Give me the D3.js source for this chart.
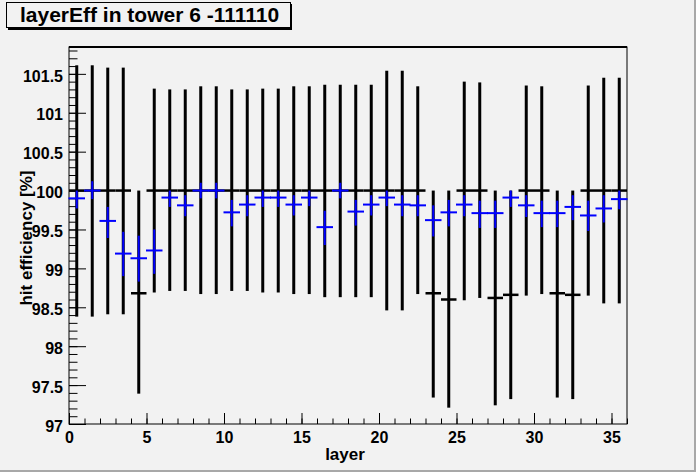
<!DOCTYPE html>
<html>
<head>
<meta charset="utf-8">
<script src="https://cdn.jsdelivr.net/npm/d3@7"></script>
<style>
  html, body { margin: 0; padding: 0; background: #f2f2f2; }
  svg { display: block; }
  text { font-family: "Liberation Sans", Arial, Helvetica, sans-serif; font-weight: bold; }
</style>
</head>
<body>
<svg id="chart" width="696" height="472"></svg>
<script>
// ---- data ----
const layers = d3.range(36).map(i => i + 0.5);

// black series (reference)
const blackValue = [100,100,100,100,98.68,100,100,100,100,100,100,100,100,100,100,100,100,100,100,100,100,100,100,98.68,98.60,100,100,98.62,98.66,100,100,98.68,98.66,100,100,100];
const blackHigh  = [101.61,101.61,101.58,101.58,100,101.31,101.30,101.30,101.34,101.34,101.30,101.30,101.31,101.31,101.34,101.34,101.36,101.36,101.36,101.36,101.54,101.54,101.34,100,100,101.40,101.39,100,100,101.35,101.34,100,100,101.35,101.45,101.45];
const blackLow   = [98.38,98.38,98.41,98.41,97.39,98.69,98.71,98.71,98.67,98.67,98.71,98.71,98.69,98.69,98.67,98.67,98.63,98.63,98.63,98.63,98.46,98.46,98.67,97.34,97.21,98.59,98.62,97.24,97.32,98.65,98.67,97.34,97.32,98.65,98.55,98.55];

// blue series
const blueValue = [99.90,100.00,99.61,99.19,99.13,99.23,99.91,99.81,100.00,100.00,99.72,99.82,99.91,99.91,99.82,99.91,99.53,100.00,99.73,99.82,99.91,99.82,99.81,99.62,99.72,99.82,99.71,99.71,99.91,99.81,99.71,99.71,99.79,99.68,99.77,99.89];
const blueHigh  = [100.00,100.12,99.79,99.47,99.42,99.50,100.00,99.94,100.10,100.10,99.88,99.94,100.00,100.00,99.94,100.00,99.74,100.10,99.88,99.94,100.00,99.94,99.94,99.81,99.88,99.94,99.87,99.87,100.00,99.94,99.87,99.87,99.94,99.87,99.94,100.00];
const blueLow   = [99.77,99.89,99.39,98.90,98.83,98.93,99.79,99.67,99.90,99.90,99.54,99.67,99.79,99.79,99.68,99.80,99.30,99.90,99.55,99.68,99.80,99.67,99.67,99.41,99.54,99.67,99.52,99.52,99.79,99.66,99.53,99.53,99.62,99.48,99.59,99.76];

const yTickValues = [97, 97.5, 98, 98.5, 99, 99.5, 100, 100.5, 101, 101.5];
const yTickLabels = ["97", "97.5", "98", "98.5", "99", "99.5", "100", "100.5", "101", "101.5"];
const xTickValues = [0, 5, 10, 15, 20, 25, 30, 35];
const xTickLabels = ["0", "5", "10", "15", "20", "25", "30", "35"];

const titleText = "layerEff in tower 6 -111110";
const xTitle = "layer";
const yTitle = "hit efficiency [%]";

// ---- layout ----
const W = 696, H = 472;
const fl = 69, fr = 627, ft = 47, fb = 424;
const svg = d3.select("#chart");

svg.append("rect").attr("x", 0).attr("y", 0).attr("width", W).attr("height", H).attr("fill", "#f2f2f2");
// canvas bevel
svg.append("rect").attr("x", W - 2).attr("y", 0).attr("width", 2).attr("height", H).attr("fill", "#a8a8a8");
svg.append("rect").attr("x", 0).attr("y", H - 2).attr("width", W).attr("height", 2).attr("fill", "#a8a8a8");

const x = d3.scaleLinear().domain([0, 36]).range([fl, fr]);
const y = d3.scaleLinear().domain([97, 101.845]).range([fb, ft]);

// frame
svg.append("rect").attr("x", fl).attr("y", ft).attr("width", fr - fl).attr("height", fb - ft)
  .attr("fill", "#f2f2f2").attr("stroke", "black").attr("stroke-width", 1);
svg.append("line").attr("x1", fl).attr("x2", fr).attr("y1", ft).attr("y2", ft)
  .attr("stroke", "black").attr("stroke-width", 2);

// axes
const yMinor = d3.range(970, 1019).map(v => v / 10);
const xMinor = d3.range(0, 37);

function styleAxis(g) {
  g.select(".domain").remove();
  g.selectAll("line").attr("stroke", "black").attr("stroke-width", 1);
  g.attr("font-family", null).attr("font-size", null);
  g.selectAll("text").attr("fill", "black").style("font-size", "16px");
}

svg.append("g").attr("transform", `translate(${fl},0)`)
  .call(d3.axisLeft(y).tickValues(yMinor).tickSizeInner(-8.5).tickSizeOuter(0).tickFormat(""))
  .call(styleAxis);
svg.append("g").attr("transform", `translate(${fl},0)`)
  .call(d3.axisLeft(y).tickValues(yTickValues).tickSizeInner(-17).tickSizeOuter(0).tickPadding(6)
    .tickFormat((d, i) => yTickLabels[i]))
  .call(styleAxis)
  .call(g => g.selectAll("text").attr("dy", "0.45em"));

svg.append("g").attr("transform", `translate(0,${fb})`)
  .call(d3.axisBottom(x).tickValues(xMinor).tickSizeInner(-5.5).tickSizeOuter(0).tickFormat(""))
  .call(styleAxis);
svg.append("g").attr("transform", `translate(0,${fb})`)
  .call(d3.axisBottom(x).tickValues(xTickValues).tickSizeInner(-11).tickSizeOuter(0).tickPadding(7.5)
    .tickFormat((d, i) => xTickLabels[i]))
  .call(styleAxis);

// black series
const gB = svg.append("g");
gB.selectAll("line.v").data(layers).join("line")
  .attr("x1", d => x(d)).attr("x2", d => x(d))
  .attr("y1", (d, i) => y(blackHigh[i])).attr("y2", (d, i) => y(blackLow[i]))
  .attr("stroke", "black").attr("stroke-width", 3);
gB.selectAll("line.h").data(layers).join("line")
  .attr("x1", d => x(d - 0.5)).attr("x2", d => x(d + 0.5))
  .attr("y1", (d, i) => y(blackValue[i])).attr("y2", (d, i) => y(blackValue[i]))
  .attr("stroke", "black").attr("stroke-width", 2.5);

// blue series
const gU = svg.append("g");
gU.selectAll("line.v").data(layers).join("line")
  .attr("x1", d => x(d)).attr("x2", d => x(d))
  .attr("y1", (d, i) => y(blueHigh[i])).attr("y2", (d, i) => y(blueLow[i]))
  .attr("stroke", "#0000ff").attr("stroke-width", 2);
gU.selectAll("line.h").data(layers).join("line")
  .attr("x1", d => x(d - 0.5) - 0.5).attr("x2", d => x(d + 0.5) + 0.5)
  .attr("y1", (d, i) => y(blueValue[i])).attr("y2", (d, i) => y(blueValue[i]))
  .attr("stroke", "#0000ff").attr("stroke-width", 2);

// axis titles
svg.append("text").attr("x", 345).attr("y", 460).attr("text-anchor", "middle")
  .style("font-size", "17px").text(xTitle);
svg.append("text").attr("transform", "translate(31.5,238) rotate(-90)").attr("text-anchor", "middle")
  .style("font-size", "17px").text(yTitle);

// title box
svg.append("rect").attr("x", 8).attr("y", 4).attr("width", 284).attr("height", 26).attr("fill", "black");
svg.append("rect").attr("x", 6.5).attr("y", 2.5).attr("width", 284).attr("height", 25)
  .attr("fill", "#f2f2f2").attr("stroke", "black").attr("stroke-width", 1);
svg.append("text").attr("x", 20).attr("y", 21.5).style("font-size", "21px").text(titleText);
</script>
</body>
</html>
